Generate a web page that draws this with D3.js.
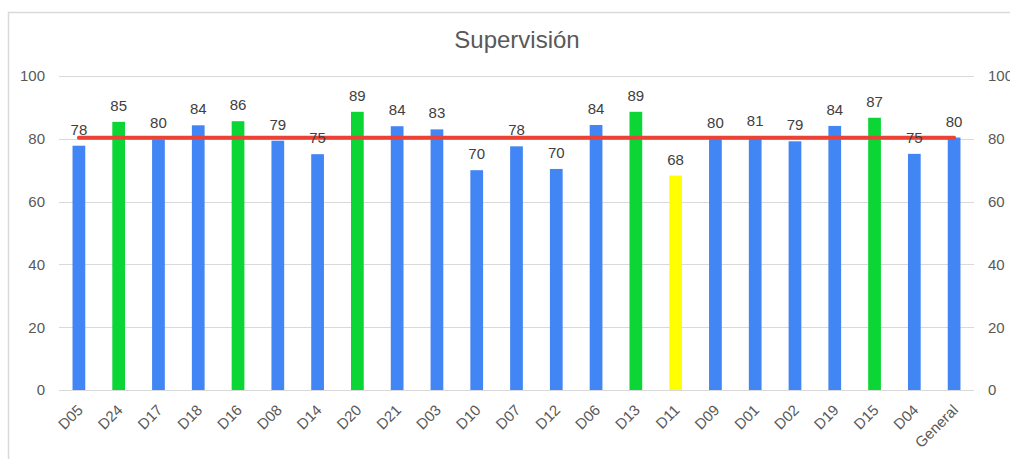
<!DOCTYPE html>
<html lang="es">
<head>
  <meta charset="utf-8">
  <title>Supervisión</title>
  <script src="https://d3js.org/d3.v7.min.js"></script>
  <style>
    body {
      margin: 0;
      padding: 0;
      background: #fff;
      font-family: Arial, "Liberation Sans", sans-serif;
      overflow: hidden;
    }
    .grid line { stroke: #d9d9d9; stroke-width: 1; }
    .tick-label { fill: #595959; font-size: 15px; }
  </style>
</head>
<body>
  <svg id="chart" width="1010" height="459"></svg>
  <script>
    // chart data
    const categories = ["D05", "D24", "D17", "D18", "D16", "D08", "D14", "D20", "D21", "D03", "D10", "D07",
      "D12", "D06", "D13", "D11", "D09", "D01", "D02", "D19", "D15", "D04", "General"];
    const scores = [77.8, 85.4, 79.8, 84.3, 85.6, 79.4, 75.1, 88.6, 84.0, 83.0, 70.0, 77.6,
      70.4, 84.4, 88.6, 68.3, 79.9, 80.6, 79.2, 84.1, 86.7, 75.2, 80.4];
    const tiers = ["mid", "high", "mid", "mid", "high", "mid", "mid", "high", "mid", "mid", "mid", "mid",
      "mid", "mid", "high", "low", "mid", "mid", "mid", "mid", "high", "mid", "mid"];
    const average = [80.3, 80.3, 80.3, 80.3, 80.3, 80.3, 80.3, 80.3, 80.3, 80.3, 80.3, 80.3,
      80.3, 80.3, 80.3, 80.3, 80.3, 80.3, 80.3, 80.3, 80.3, 80.3, 80.3];
    const yTicks = [0, 20, 40, 60, 80, 100];

    const svg = d3.select("#chart");
    const margin = { top: 76, right: 36, bottom: 69, left: 59 };
    const width = 1010 - margin.left - margin.right;
    const height = 459 - margin.top - margin.bottom;

    // outer chart border (cut off at the right and bottom)
    svg.append("path")
      .attr("d", "M8.5,470 V12.5 H1020")
      .attr("fill", "none")
      .attr("stroke", "#d9d9d9")
      .attr("stroke-width", 1.5);

    svg.append("text")
      .attr("x", 517)
      .attr("y", 48)
      .attr("text-anchor", "middle")
      .attr("fill", "#595959")
      .attr("font-size", "24px")
      .text("Supervisión");

    const g = svg.append("g").attr("transform", `translate(${margin.left},${margin.top})`);

    const x = d3.scaleBand().domain(categories).range([0, width]).paddingInner(0).paddingOuter(0);
    const y = d3.scaleLinear().domain([0, 100]).range([height, 0]);
    const color = d3.scaleOrdinal().domain(["low", "mid", "high"]).range(["#ffff00", "#4285f4", "#0bd636"]);

    // gridlines
    g.append("g").attr("class", "grid")
      .selectAll("line")
      .data(yTicks)
      .join("line")
      .attr("x1", 0)
      .attr("x2", width)
      .attr("y1", d => Math.round(y(d)) + 0.5)
      .attr("y2", d => Math.round(y(d)) + 0.5);

    // left and right axis labels
    const leftAxis = g.append("g").call(d3.axisLeft(y).tickValues(yTicks).tickSize(0).tickPadding(14));
    const rightAxis = g.append("g").attr("transform", `translate(${width},0)`)
      .call(d3.axisRight(y).tickValues(yTicks).tickSize(0).tickPadding(14));
    [leftAxis, rightAxis].forEach(a => {
      a.select(".domain").remove();
      a.selectAll("text").attr("class", "tick-label").attr("font-family", null).attr("font-size", null);
    });

    const bw = x.bandwidth() * 0.32;
    const data = categories.map((c, i) => ({ cat: c, v: scores[i], tier: tiers[i], avg: average[i] }));

    // bars
    g.append("g")
      .selectAll("rect")
      .data(data)
      .join("rect")
      .attr("x", d => x(d.cat) + x.bandwidth() / 2 - bw / 2)
      .attr("width", bw)
      .attr("y", d => y(d.v))
      .attr("height", d => y(0) - y(d.v))
      .attr("fill", d => color(d.tier));

    // average line
    const line = d3.line()
      .x(d => x(d.cat) + x.bandwidth() / 2)
      .y(d => y(d.avg));
    g.append("path")
      .datum(data)
      .attr("d", line)
      .attr("fill", "none")
      .attr("stroke", "#ea4335")
      .attr("stroke-width", 4)
      .attr("stroke-linecap", "round");

    // value labels
    g.append("g")
      .selectAll("text")
      .data(data)
      .join("text")
      .attr("x", d => x(d.cat) + x.bandwidth() / 2)
      .attr("y", d => y(d.v) - 11)
      .attr("text-anchor", "middle")
      .attr("fill", "#404040")
      .attr("font-size", "15px")
      .text(d => d3.format(".0f")(d.v));

    // category labels
    g.append("g")
      .selectAll("text")
      .data(categories)
      .join("text")
      .attr("transform", d => `translate(${x(d) + x.bandwidth() / 2 + 5},${height + 21}) rotate(-45)`)
      .attr("text-anchor", "end")
      .attr("fill", "#595959")
      .attr("font-size", "15px")
      .text(d => d);
  </script>
</body>
</html>
